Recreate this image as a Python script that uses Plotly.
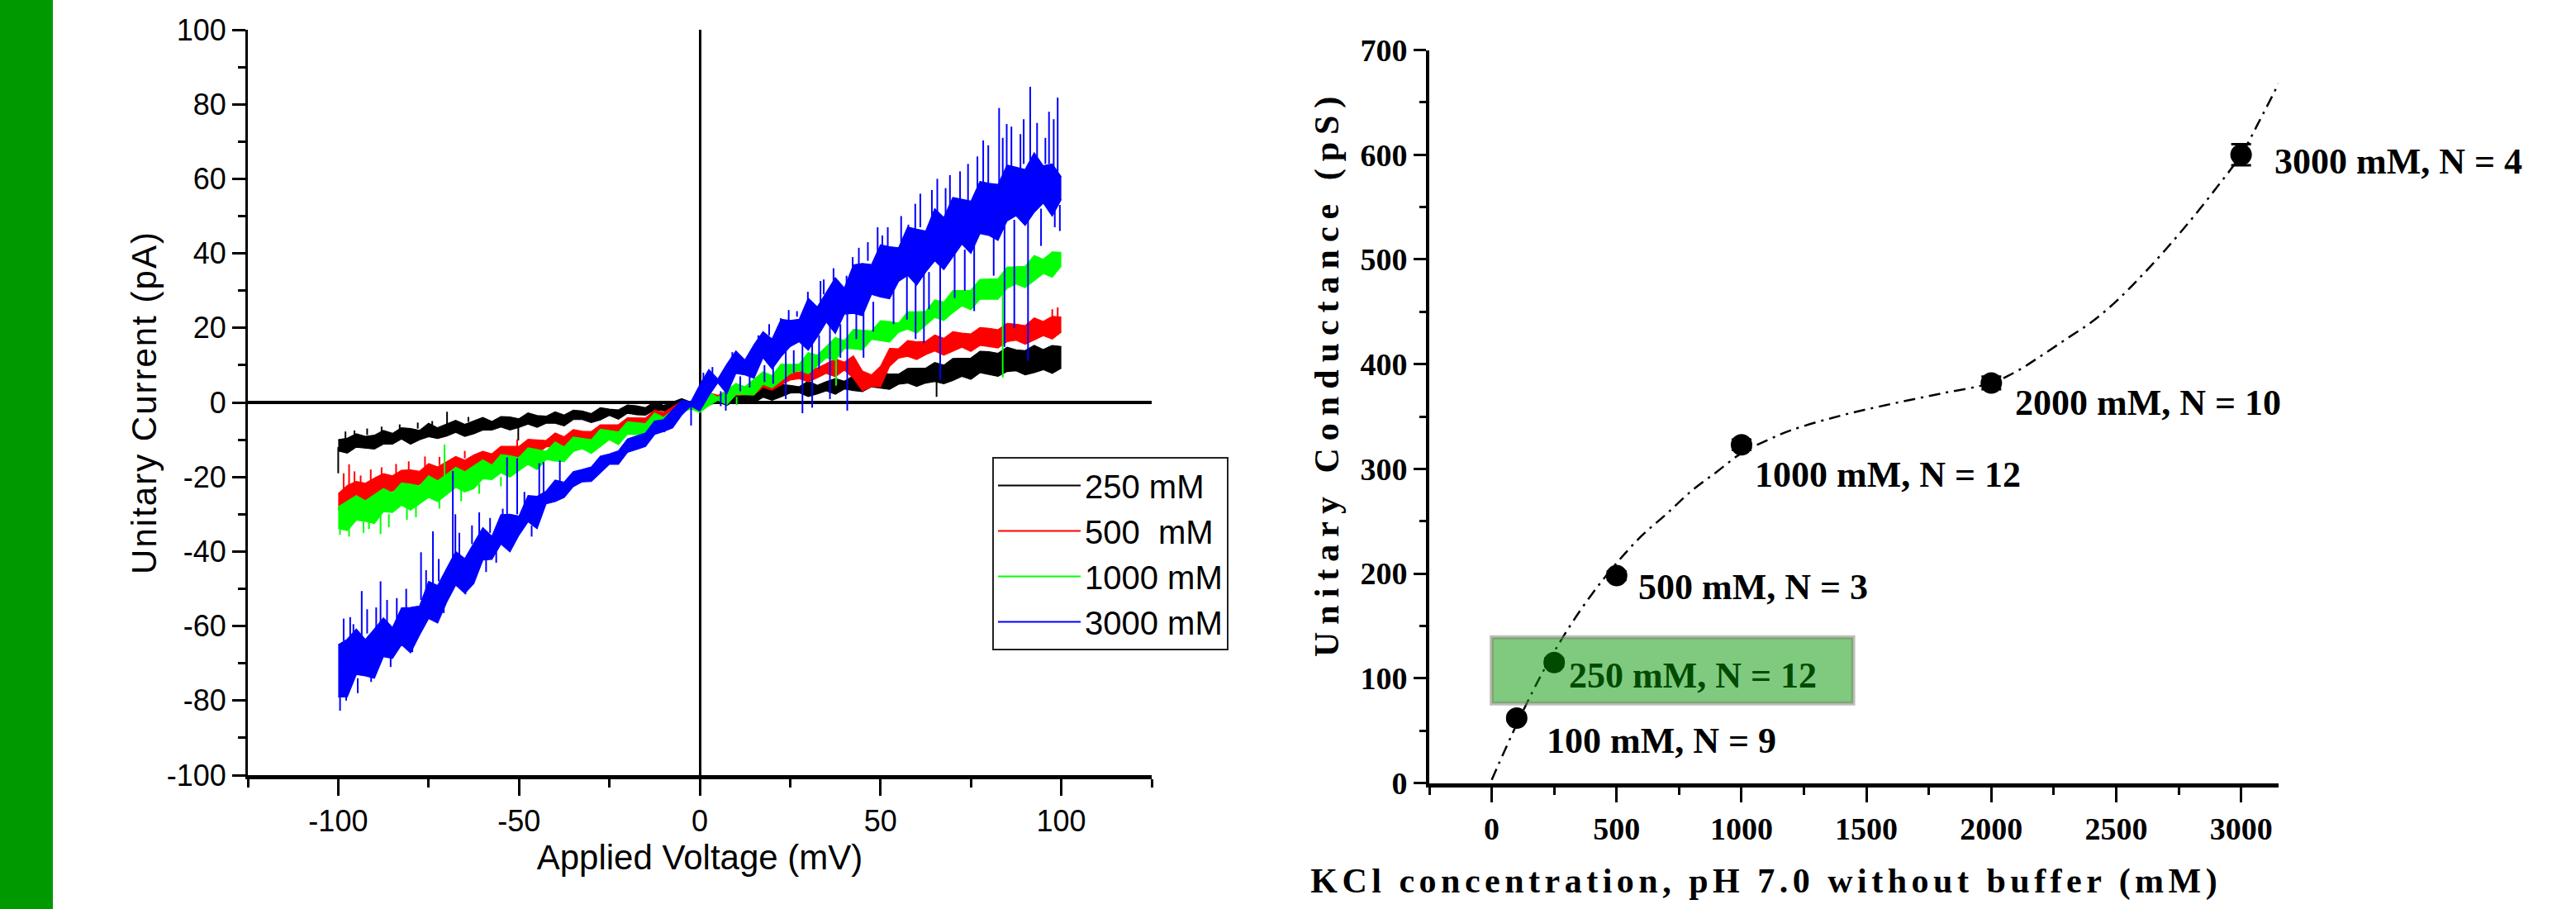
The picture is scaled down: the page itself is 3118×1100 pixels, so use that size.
import plotly.graph_objects as go

# ---------------- Left panel: I-V traces ----------------
voltage_mV = [-100.0, -97.5, -95.0, -92.5, -90.0, -87.5, -85.0, -82.5, -80.0, -77.5,
              -75.0, -72.5, -70.0, -67.5, -65.0, -62.5, -60.0, -57.5, -55.0, -52.5,
              -50.0, -47.5, -45.0, -42.5, -40.0, -37.5, -35.0, -32.5, -30.0, -27.5,
              -25.0, -22.5, -20.0, -17.5, -15.0, -12.5, -10.0, -7.5, -5.0, -2.5,
              0.0, 2.5, 5.0, 7.5, 10.0, 12.5, 15.0, 17.5, 20.0, 22.5,
              25.0, 27.5, 30.0, 32.5, 35.0, 37.5, 40.0, 42.5, 45.0, 47.5,
              50.0, 52.5, 55.0, 57.5, 60.0, 62.5, 65.0, 67.5, 70.0, 72.5,
              75.0, 77.5, 80.0, 82.5, 85.0, 87.5, 90.0, 92.5, 95.0, 97.5, 100.0]

# noise envelope (low / high) of each recorded trace, pA
kcl250_lo = [-13.0, -13.6, -12.0, -12.3, -12.5, -11.2, -11.2, -9.8, -11.2, -10.0,
             -9.2, -9.7, -9.0, -8.0, -9.1, -8.4, -7.4, -7.4, -6.6, -7.4,
             -6.7, -5.8, -6.7, -5.6, -5.6, -6.3, -4.6, -4.6, -5.4, -4.7,
             -3.5, -4.5, -2.9, -3.3, -3.4, -2.0, -2.2, -2.5, -1.0, -0.7,
             -1.6, -0.7, 0.1, -0.8, 0.6, 0.3, -0.1, 1.4, 0.6, 1.5,
             2.5, 2.6, 1.6, 2.3, 3.1, 2.2, 3.6, 3.2, 2.9, 4.2,
             3.9, 3.5, 4.9, 5.2, 4.3, 5.2, 5.6, 5.0, 5.9, 7.0,
             6.2, 8.0, 7.5, 7.0, 8.3, 8.5, 7.4, 8.0, 8.8, 7.8, 9.2]
kcl250_hi = [-10.0, -9.6, -8.4, -9.1, -8.8, -7.5, -8.3, -6.8, -7.0, -7.5,
             -5.6, -6.8, -5.8, -4.8, -5.9, -5.0, -4.0, -5.1, -3.8, -3.9,
             -4.4, -2.8, -3.5, -3.7, -2.5, -3.4, -2.1, -2.3, -3.0, -1.4,
             -1.8, -2.0, -0.7, -0.9, -1.4, 0.2, -0.8, 0.1, 1.0, 0.1,
             1.0, 1.9, 1.1, 2.0, 2.9, 2.1, 3.0, 4.0, 3.1, 4.8,
             4.6, 4.2, 5.7, 4.6, 5.6, 6.4, 5.7, 7.1, 6.9, 6.5,
             8.1, 7.6, 7.6, 9.1, 9.2, 9.2, 10.7, 10.0, 11.8, 11.8,
             11.9, 13.7, 13.6, 13.2, 14.8, 14.1, 13.9, 15.3, 14.2, 15.3, 15.0]

kcl500_lo = [-28.8, -28.7, -26.1, -26.1, -25.9, -23.8, -23.8, -22.5, -23.3, -21.9,
             -20.6, -21.3, -19.8, -18.3, -19.2, -18.5, -16.6, -16.6, -15.2, -15.8,
             -14.4, -13.1, -13.8, -11.9, -11.9, -12.1, -10.2, -9.8, -10.7, -9.4,
             -7.9, -8.7, -6.6, -6.6, -6.6, -4.4, -4.2, -4.1, -1.8, -1.0,
             -1.6, -0.3, 0.9, 0.0, 1.9, 2.0, 2.0, 4.1, 3.3, 4.7,
             6.0, 6.4, 5.5, 6.6, 7.8, 6.9, 8.7, 6.5, 3.1, 4.3,
             4.2, 9.7, 11.9, 12.4, 11.5, 12.8, 13.8, 12.7, 13.8, 14.8,
             13.7, 15.3, 15.0, 14.6, 16.3, 16.7, 15.6, 16.8, 17.9, 17.0, 18.9]
kcl500_hi = [-24.5, -22.3, -21.2, -21.7, -20.3, -19.1, -19.7, -18.2, -18.1, -18.5,
             -16.4, -17.3, -15.9, -14.5, -15.5, -14.1, -13.1, -13.8, -11.8, -11.8,
             -11.8, -9.9, -10.0, -10.2, -8.2, -9.2, -7.3, -7.7, -7.8, -6.0,
             -6.0, -6.0, -4.1, -4.1, -4.2, -2.1, -2.7, -1.2, 0.3, -0.2,
             1.3, 2.6, 1.9, 3.1, 4.5, 3.9, 5.4, 6.9, 6.2, 8.4,
             8.4, 8.1, 10.1, 9.2, 10.4, 11.7, 10.8, 12.5, 8.4, 7.4,
             9.7, 14.5, 14.4, 16.6, 16.3, 16.4, 18.1, 17.2, 19.0, 18.6,
             18.4, 20.1, 19.9, 19.5, 21.2, 21.0, 20.6, 22.7, 21.7, 23.1, 22.9]

kcl1000_lo = [-33.8, -34.4, -31.6, -31.9, -32.5, -29.3, -29.5, -27.6, -28.9, -27.1,
              -25.5, -26.6, -24.8, -22.8, -24.0, -23.1, -20.5, -20.7, -18.9, -20.0,
              -18.3, -16.6, -18.0, -15.3, -15.7, -15.9, -13.2, -12.4, -13.7, -11.8,
              -10.0, -11.3, -8.5, -8.6, -8.8, -5.8, -5.9, -5.9, -2.8, -1.7,
              -2.7, -0.9, 0.6, -0.6, 2.2, 2.1, 2.0, 4.9, 3.9, 5.8,
              7.7, 8.6, 7.7, 9.8, 12.0, 11.3, 14.5, 14.4, 14.1, 16.9,
              16.5, 16.2, 18.8, 19.7, 18.6, 20.6, 22.8, 22.0, 24.1, 25.9,
              24.9, 27.7, 27.7, 27.7, 30.6, 31.8, 30.8, 32.8, 34.6, 33.6, 36.6]
kcl1000_hi = [-28.0, -26.5, -25.0, -26.4, -24.8, -23.1, -24.3, -21.6, -21.9, -22.4,
              -19.7, -21.0, -19.3, -17.4, -18.6, -17.0, -15.4, -16.8, -14.0, -14.3,
              -14.8, -12.2, -12.7, -13.1, -10.6, -11.9, -9.3, -9.6, -10.0, -7.2,
              -7.6, -7.9, -5.2, -5.4, -5.7, -2.8, -4.0, -2.1, -0.1, -1.1,
              0.9, 2.7, 1.4, 3.2, 5.1, 4.2, 6.1, 8.2, 7.2, 10.3,
              10.2, 10.3, 13.4, 12.7, 15.0, 17.4, 16.6, 19.6, 19.4, 19.2,
              21.9, 21.7, 21.3, 24.3, 24.3, 24.4, 27.5, 26.9, 30.0, 30.0,
              30.1, 33.0, 33.1, 33.2, 36.3, 36.4, 36.5, 39.4, 38.4, 40.4, 40.3]

kcl3000_lo = [-79.0, -79.0, -73.0, -73.4, -74.0, -68.2, -68.7, -65.0, -67.2, -62.4,
              -58.0, -59.2, -53.6, -49.0, -51.2, -48.6, -42.3, -42.1, -38.0, -40.1,
              -35.6, -32.0, -33.9, -27.2, -26.6, -25.5, -22.6, -21.3, -21.2, -18.9,
              -16.6, -16.6, -13.4, -12.6, -11.8, -8.6, -7.8, -6.8, -3.4, -0.9,
              -2.3, 1.8, 5.3, 2.3, 7.8, 7.4, 6.5, 12.0, 9.0, 12.3,
              15.0, 16.3, 14.0, 17.6, 21.6, 18.5, 23.7, 23.9, 23.3, 29.0,
              28.3, 27.8, 32.5, 34.1, 31.5, 35.0, 38.0, 35.6, 39.0, 42.5,
              40.0, 45.3, 44.8, 43.5, 48.7, 50.1, 47.5, 51.0, 53.5, 50.0, 54.5]
kcl3000_hi = [-65.0, -63.5, -60.8, -63.6, -60.8, -57.8, -60.4, -55.1, -55.0, -54.6,
              -48.0, -49.1, -44.5, -40.0, -41.9, -37.6, -33.6, -35.9, -30.1, -30.0,
              -30.5, -25.0, -25.2, -23.8, -20.8, -21.4, -18.6, -18.0, -17.3, -14.4,
              -13.8, -13.0, -9.8, -9.0, -8.2, -5.0, -4.6, -2.0, 0.6, 0.1,
              4.7, 8.8, 6.3, 10.3, 13.8, 11.4, 15.5, 19.0, 17.0, 22.3,
              22.0, 22.3, 28.0, 25.6, 29.6, 33.5, 30.7, 36.9, 37.3, 37.0,
              42.3, 41.8, 41.5, 47.1, 46.5, 46.0, 52.0, 49.6, 55.0, 54.5,
              54.0, 59.3, 58.8, 58.5, 63.7, 63.1, 62.5, 67.0, 63.5, 64.0, 60.5]

# single-sample spikes: voltage, start (pA), tip (pA)
kcl250_spike_v = [-100.0, -98.0, -95.5, -92.0, -88.0, -83.0, -78.0, -74.0, -69.9, -64.0,
                  -50.2, 65.5]
kcl250_spike_from = [-12.0, -9.6, -9.2, -8.7, -8.3, -7.5, -7.0, -6.5, -6.0, -5.2,
                     -6.0, 6.0]
kcl250_spike_to = [-19.0, -7.8, -7.5, -7.0, -6.5, -5.9, -5.4, -5.0, -2.5, -3.9,
                   -10.2, 1.5]

kcl500_spike_v = [-98.5, -97.0, -95.5, -93.8, -91.0, -88.0, -84.0, -80.5, -76.0, -72.0,
                  -65.0, -50.5, 97.5, 99.0]
kcl500_spike_from = [-24.0, -24.0, -22.5, -22.0, -21.0, -20.0, -19.5, -18.3, -17.5, -16.8,
                     -15.0, -12.0, 22.0, 22.0]
kcl500_spike_to = [-19.0, -16.6, -18.5, -19.6, -18.0, -17.4, -16.5, -15.8, -14.5, -14.6,
                   -13.0, -9.9, 25.0, 25.5]

kcl1000_spike_v = [-99.5, -97.0, -93.0, -91.5, -88.3, -86.0, -81.0, -78.5, -72.0, -70.6,
                   -66.0, -61.0, -55.0, 10.2, 37.7, 83.8]
kcl1000_spike_from = [-31.0, -33.0, -32.0, -31.0, -29.0, -30.0, -28.5, -27.5, -25.5, -20.0,
                      -23.0, -21.8, -20.0, 1.5, 13.0, 31.0]
kcl1000_spike_to = [-35.5, -36.0, -35.0, -34.0, -35.3, -33.5, -31.5, -30.8, -28.5, -11.3,
                    -26.5, -24.5, -22.5, -0.7, 4.5, 6.7]

kcl3000_spike_v = [-99.5, -98.5, -97.8, -96.7, -95.8, -94.6, -93.5, -92.0, -90.9, -89.5,
                   -88.3, -86.5, -85.5, -83.8, -81.2, -79.5, -77.1, -75.7, -73.8, -72.2,
                   -70.8, -68.3, -67.6, -66.5, -64.8, -63.0, -61.0, -59.1, -58.0, -56.3,
                   -54.5, -53.3, -50.5, -48.5, -46.5, -44.4, -43.2, -38.7, -9.8, -2.4,
                   1.0, 3.5, 5.8, 7.2, 9.0, 11.2, 13.8, 16.2, 17.9, 19.2,
                   20.3, 22.4, 23.8, 24.6, 26.0, 26.9, 28.4, 29.9, 31.1, 33.0,
                   33.4, 34.3, 36.0, 37.0, 38.9, 40.6, 40.8, 42.3, 43.3, 44.0,
                   45.3, 46.5, 48.0, 49.2, 50.5, 52.0, 53.6, 55.7, 57.3, 57.7,
                   59.6, 59.7, 61.0, 62.0, 63.4, 64.2, 65.7, 66.5, 68.0, 69.2,
                   70.5, 72.0, 73.3, 74.2, 75.9, 76.8, 78.4, 79.8, 81.3, 82.8,
                   83.8, 84.3, 84.9, 86.2, 87.0, 88.7, 89.6, 90.8, 91.4, 93.3,
                   94.4, 95.6, 96.6, 97.9, 98.2, 99.0, 99.6]
kcl3000_spike_from = [-72.0, -64.0, -76.0, -65.0, -63.0, -74.0, -63.0, -62.0, -71.0, -61.0,
                      -61.0, -60.0, -68.0, -58.0, -57.0, -64.0, -53.0, -51.0, -52.0, -48.0,
                      -52.0, -44.0, -45.0, -41.0, -48.0, -38.0, -38.0, -42.0, -35.0, -40.0,
                      -33.0, -33.0, -30.0, -29.0, -33.0, -27.0, -26.0, -22.0, -5.0, -1.0,
                      4.0, 6.0, 3.0, 6.0, 11.0, 7.0, 9.0, 15.0, 10.0, 18.0,
                      13.0, 20.0, 14.0, 21.0, 14.0, 23.0, 17.0, 25.0, 19.0, 18.0,
                      26.0, 29.0, 22.0, 31.0, 21.0, 31.0, 24.0, 34.0, 24.0, 35.0,
                      28.0, 38.0, 27.0, 40.0, 39.0, 41.0, 30.0, 43.0, 35.0, 44.0,
                      45.0, 36.0, 47.0, 37.0, 35.0, 48.0, 49.0, 39.0, 50.0, 52.0,
                      40.0, 54.0, 41.0, 54.0, 44.0, 57.0, 56.0, 58.0, 45.0, 59.0,
                      61.0, 48.0, 60.0, 62.0, 49.0, 62.0, 64.0, 50.0, 63.0, 65.0,
                      52.0, 64.0, 64.0, 63.0, 52.0, 62.0, 53.0]
kcl3000_spike_to = [-82.7, -58.0, -80.0, -57.6, -59.5, -78.0, -50.6, -55.5, -75.0, -55.0,
                    -48.0, -53.0, -71.0, -52.5, -50.0, -67.0, -40.2, -45.0, -34.6, -42.0,
                    -56.5, -18.4, -30.0, -35.0, -51.5, -33.0, -29.5, -45.5, -31.0, -43.0,
                    -28.5, -14.7, -15.0, -24.0, -36.0, -16.3, -16.0, -15.6, -8.0, -6.2,
                    8.0, 9.5, -1.0, -2.2, 13.5, 3.0, 4.0, 18.0, 5.5, 21.0,
                    5.0, 22.6, 0.9, 24.8, 8.0, 24.5, -2.9, 29.7, -1.4, 9.0,
                    32.6, 33.0, 0.9, 36.0, 12.0, 34.0, -2.2, 39.0, 17.0, 41.5,
                    12.0, 43.0, 19.0, 47.0, 44.8, 47.0, 21.0, 50.0, 22.2, 47.7,
                    53.3, 17.0, 56.0, 16.0, 25.0, 57.0, 60.0, 6.0, 57.5, 61.0,
                    28.0, 62.0, 30.0, 64.0, 24.5, 66.0, 70.3, 69.0, 34.0, 79.0,
                    71.0, 14.9, 74.7, 74.0, 20.0, 72.0, 76.0, 11.2, 84.7, 75.0,
                    42.0, 71.0, 78.0, 76.0, 47.0, 81.8, 46.0]

series_names = ["250 mM", "500  mM", "1000 mM", "3000 mM"]
series_colors = ["#000000", "#ff0000", "#00ff00", "#0000ff"]
series_lo = [kcl250_lo, kcl500_lo, kcl1000_lo, kcl3000_lo]
series_hi = [kcl250_hi, kcl500_hi, kcl1000_hi, kcl3000_hi]
series_spike_v = [kcl250_spike_v, kcl500_spike_v, kcl1000_spike_v, kcl3000_spike_v]
series_spike_from = [kcl250_spike_from, kcl500_spike_from, kcl1000_spike_from, kcl3000_spike_from]
series_spike_to = [kcl250_spike_to, kcl500_spike_to, kcl1000_spike_to, kcl3000_spike_to]

left_x_ticks = [-100, -50, 0, 50, 100]
left_y_ticks = [-100, -80, -60, -40, -20, 0, 20, 40, 60, 80, 100]

# ---------------- Right panel: conductance vs concentration ----------------
conc_mM = [100, 250, 500, 1000, 2000, 3000]
cond_pS = [62, 115, 198, 323, 382, 600]
cond_err = [3, 4, 4, 5, 6, 10]
point_labels = ["100 mM, N = 9", "250 mM, N = 12", "500 mM, N = 3",
                "1000 mM, N = 12", "2000 mM, N = 10", "3000 mM, N = 4"]

fit_conc = [0, 100, 200, 300, 400, 500, 600, 700, 800, 900, 1000, 1100, 1200,
            1400, 1600, 1800, 2000, 2100, 2200, 2300, 2400, 2500, 2600, 2700,
            2800, 2900, 3000, 3075, 3150]
fit_cond = [3, 56, 104, 145, 180, 210, 236, 257, 279, 297, 315, 327, 337,
            351, 362, 372, 382, 393, 408, 424, 440, 460, 484, 510,
            538, 568, 600, 633, 668]

W, H = 3118, 1100
SANS = "Liberation Sans, Arial, sans-serif"
SERIF = "Liberation Serif, Times New Roman, serif"

fig = go.Figure()

for name, col, lo, hi, sv, sf, st in zip(series_names, series_colors, series_lo, series_hi,
                                          series_spike_v, series_spike_from, series_spike_to):
    fig.add_trace(go.Scatter(x=voltage_mV, y=lo, mode="lines", line=dict(color=col, width=1.2),
                             showlegend=False, hoverinfo="skip", xaxis="x", yaxis="y"))
    fig.add_trace(go.Scatter(x=voltage_mV, y=hi, mode="lines", line=dict(color=col, width=1.2),
                             fill="tonexty", fillcolor=col, showlegend=False, hoverinfo="skip",
                             xaxis="x", yaxis="y"))
    sx, sy = [], []
    for v, a, b in zip(sv, sf, st):
        sx += [v, v, None]
        sy += [a, b, None]
    fig.add_trace(go.Scatter(x=sx, y=sy, mode="lines", line=dict(color=col, width=2),
                             showlegend=False, hoverinfo="skip", xaxis="x", yaxis="y"))

for name, col in zip(series_names, series_colors):
    fig.add_trace(go.Scatter(x=[None], y=[None], mode="lines", name=name,
                             line=dict(color=col, width=2), xaxis="x", yaxis="y"))

# right panel
fig.add_trace(go.Scatter(x=fit_conc, y=fit_cond, mode="lines", line_shape="spline",
                         line=dict(color="black", width=2.5, dash="14px,7px,3px,7px"),
                         showlegend=False, hoverinfo="skip", xaxis="x2", yaxis="y2"))
fig.add_trace(go.Scatter(x=conc_mM, y=cond_pS, mode="markers",
                         marker=dict(color="black", size=26),
                         error_y=dict(type="data", array=cond_err, color="black",
                                      thickness=3, width=12),
                         showlegend=False, xaxis="x2", yaxis="y2"))

label_shift = [(34, -28), (16, -16), (24, -14), (14, -36), (27, -24), (38, -8)]
annotations = [
    dict(text="KCl concentration, pH 7.0 without buffer (mM)", xref="paper", yref="paper",
         x=2137 / W, y=1 - 1066 / H, xanchor="center", yanchor="middle", showarrow=False,
         font=dict(family=SERIF, size=42, color="black", weight="bold")),
    dict(text="Unitary Conductance (pS)", xref="paper", yref="paper",
         x=1606 / W, y=1 - 452 / H, xanchor="center", yanchor="middle", showarrow=False,
         textangle=-90,
         font=dict(family=SERIF, size=42, color="black", weight="bold")),
]
for cx, cy, txt, (dx, dy) in zip(conc_mM, cond_pS, point_labels, label_shift):
    color = "rgb(0,75,0)" if txt.startswith("250") else "black"
    annotations.append(dict(text=txt, x=cx, y=cy, xref="x2", yref="y2", xanchor="left",
                            yanchor="middle", xshift=dx, yshift=dy, showarrow=False,
                            font=dict(family=SERIF, size=44, color=color, weight="bold")))

shapes = [
    dict(type="rect", xref="paper", yref="paper", x0=0, x1=64 / W, y0=0, y1=1,
         fillcolor="#009900", line=dict(width=0), layer="below"),
    dict(type="rect", xref="x2", yref="y2", x0=0, x1=1447, y0=76, y1=139,
         fillcolor="rgba(0,150,0,0.5)", line=dict(color="rgba(128,128,112,0.5)", width=5),
         layer="above"),
]

axis_common = dict(showgrid=False, showline=True, linecolor="black", ticks="outside",
                   tickcolor="black", tickwidth=3, mirror=False)

fig.update_layout(
    width=W, height=H, template="none",
    margin=dict(l=0, r=0, t=0, b=0),
    paper_bgcolor="white", plot_bgcolor="white",
    showlegend=True,
    legend=dict(x=1201 / W, y=1 - 553 / H, xanchor="left", yanchor="top",
                traceorder="normal",
                bgcolor="white", bordercolor="#222222", borderwidth=2,
                font=dict(family=SANS, size=40, color="black"),
                itemwidth=100, tracegroupgap=0),
    xaxis=dict(domain=[300 / W, 1394 / W], anchor="y", range=[-125, 125],
               tickmode="array", tickvals=left_x_ticks,
               ticktext=[str(v) for v in left_x_ticks],
               ticklen=20, linewidth=5,
               zeroline=True, zerolinecolor="black", zerolinewidth=3,
               minor=dict(tickmode="linear", tick0=0, dtick=25, ticklen=10, tickwidth=3,
                          tickcolor="black", ticks="outside"),
               tickfont=dict(family=SANS, size=36, color="black"),
               title=dict(text="Applied Voltage (mV)", standoff=0,
                          font=dict(family=SANS, size=42, color="black")),
               **axis_common),
    yaxis=dict(domain=[1 - 938 / H, 1 - 36 / H], anchor="x", range=[-100, 100],
               tickmode="array", tickvals=left_y_ticks,
               ticktext=[str(v) for v in left_y_ticks],
               ticklen=16, linewidth=3,
               zeroline=True, zerolinecolor="black", zerolinewidth=4,
               minor=dict(tickmode="linear", tick0=0, dtick=10, ticklen=9, tickwidth=3,
                          tickcolor="black", ticks="outside"),
               tickfont=dict(family=SANS, size=36, color="black"),
               title=dict(text="Unitary Current (pA)", standoff=0,
                          font=dict(family=SANS, size=42, color="black")),
               **axis_common),
    xaxis2=dict(domain=[1730 / W, 2758 / W], anchor="y2", range=[-250, 3150],
                tick0=0, dtick=500, ticklen=18, linewidth=5, zeroline=False,
                minor=dict(dtick=250, ticklen=9, tickwidth=3, tickcolor="black", ticks="outside"),
                tickfont=dict(family=SERIF, size=38, color="black", weight="bold"),
                **axis_common),
    yaxis2=dict(domain=[1 - 947.5 / H, 1 - 60.5 / H], anchor="x2", range=[0, 700],
                tick0=0, dtick=100, ticklen=15, linewidth=4, zeroline=False,
                minor=dict(dtick=50, ticklen=8, tickwidth=3, tickcolor="black", ticks="outside"),
                tickfont=dict(family=SERIF, size=38, color="black", weight="bold"),
                **axis_common),
    annotations=annotations,
    shapes=shapes,
)

post_script = """
(function(){
  var gd = document.getElementById('{plot_id}');
  gd.querySelectorAll('.ytitle').forEach(function(el){ el.style.letterSpacing = '2px'; });
  var a = gd.querySelector('g.annotation[data-index="0"] text.annotation-text');
  if (a) { a.style.letterSpacing = '5.5px'; }
  var b = gd.querySelector('g.annotation[data-index="1"] text.annotation-text');
  if (b) { b.style.letterSpacing = '9px'; }
})();
"""

fig.write_html("out.html", post_script=post_script)
